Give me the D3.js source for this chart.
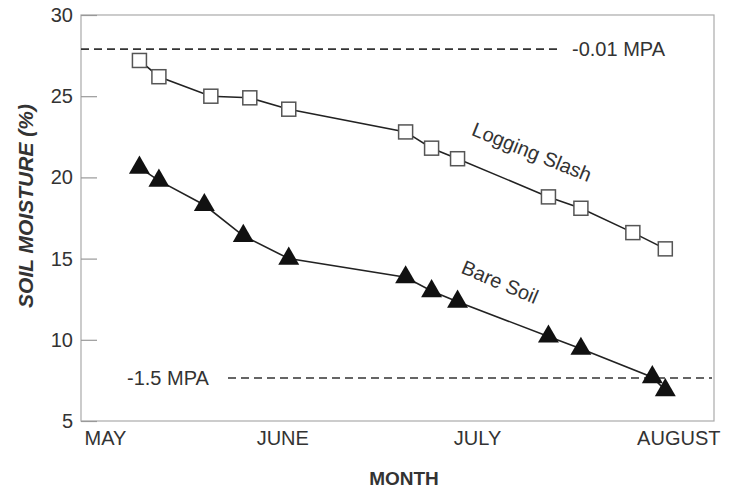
<!DOCTYPE html>
<html>
<head>
<meta charset="utf-8">
<script src="https://cdn.jsdelivr.net/npm/d3@7"></script>
<style>
  body { margin: 0; background: #fff; }
  text { font-family: "Liberation Sans", Arial, sans-serif; }
</style>
</head>
<body>
<div id="chart"></div>
<script>
// ---------------- data
const slashDates  = ["1990-05-10","1990-05-13","1990-05-21","1990-05-27","1990-06-02","1990-06-20",
                     "1990-06-24","1990-06-28","1990-07-12","1990-07-17","1990-07-25","1990-07-30"]
const slashValues = [27.2, 26.2, 25.0, 24.9, 24.2, 22.8, 21.8, 21.15, 18.8, 18.1, 16.6, 15.6]

const bareDates   = ["1990-05-10","1990-05-13","1990-05-20","1990-05-26","1990-06-02","1990-06-20","1990-06-24",
                     "1990-06-28","1990-07-12","1990-07-17","1990-07-28","1990-07-30"]
const bareValues  = [20.6, 19.8, 18.3, 16.4, 15.0, 13.85, 13.0, 12.35, 10.2, 9.45, 7.7, 6.9]

const yTicks      = [5, 10, 15, 20, 25, 30]
const monthDates  = ["1990-05-01","1990-06-01","1990-07-01","1990-08-01"]
const monthLabels = ["MAY","JUNE","JULY","AUGUST"]

const mpaValues   = [27.9, 7.65]
const mpaLabels   = ["-0.01 MPA", "-1.5 MPA"]

// ---------------- setup
const parseDate = d3.timeParse("%Y-%m-%d")
const slash = slashDates.map((d, i) => ({date: parseDate(d), value: slashValues[i]}))
const bare  = bareDates.map((d, i) => ({date: parseDate(d), value: bareValues[i]}))

const dims = {width: 751, height: 491, left: 81, right: 714, top: 15, bottom: 421}

const svg = d3.select("#chart").append("svg")
    .attr("width", dims.width)
    .attr("height", dims.height)

const xScale = d3.scaleTime()
    .domain([parseDate("1990-05-01"), new Date(1990, 7, 6, 12)])
    .range([dims.left, dims.right])

const yScale = d3.scaleLinear()
    .domain([5, 30])
    .range([dims.bottom, dims.top])

// frame
svg.append("rect")
    .attr("x", dims.left).attr("y", dims.top)
    .attr("width", dims.right - dims.left).attr("height", dims.bottom - dims.top)
    .attr("fill", "none")
    .attr("stroke", "#aaa")
    .attr("stroke-width", 1.2)

// y axis, ticks pointing in
const yAxis = d3.axisLeft(yScale).tickValues(yTicks).tickSize(-16).tickPadding(8)
const gy = svg.append("g").attr("transform", `translate(${dims.left},0)`).call(yAxis)
gy.select(".domain").remove()
gy.selectAll(".tick line").attr("stroke", "#999").attr("stroke-width", 1.2)
gy.selectAll(".tick text")
    .style("font-size", "20px")
    .style("font-family", "Liberation Sans, Arial, sans-serif")
    .attr("fill", "#333")

// x axis (month labels only)
const xAxis = d3.axisBottom(xScale)
    .tickValues(monthDates.map(parseDate))
    .tickSize(0).tickPadding(10)
    .tickFormat((d, i) => monthLabels[i])
const gx = svg.append("g").attr("transform", `translate(0,${dims.bottom})`).call(xAxis)
gx.select(".domain").remove()
gx.selectAll(".tick text")
    .style("font-size", "20px")
    .style("font-family", "Liberation Sans, Arial, sans-serif")
    .attr("fill", "#333")
gx.selectAll(".tick text").filter((d, i) => i === 0)
    .attr("text-anchor", "start").attr("x", 3)

// axis titles
svg.append("text")
    .attr("x", 404).attr("y", 485)
    .attr("text-anchor", "middle")
    .style("font-size", "19px").style("font-weight", "bold")
    .attr("fill", "#333")
    .text("MONTH")

svg.append("text")
    .attr("transform", "translate(33,206) rotate(-90)")
    .attr("text-anchor", "middle")
    .style("font-size", "21px").style("font-weight", "bold").style("font-style", "italic")
    .attr("fill", "#333")
    .text("SOIL MOISTURE (%)")

// MPA guide lines
const guides = [
  {y: yScale(mpaValues[0]), x1: dims.left, x2: 560, lx: 572, label: mpaLabels[0]},
  {y: yScale(mpaValues[1]), x1: 228, x2: 712, lx: 127, label: mpaLabels[1]}
]
guides.forEach(g => {
  svg.append("line")
    .attr("x1", g.x1).attr("x2", g.x2)
    .attr("y1", g.y).attr("y2", g.y)
    .attr("stroke", "#333")
    .attr("stroke-width", 1.6)
    .style("stroke-dasharray", "8,5")
  svg.append("text")
    .attr("x", g.lx).attr("y", g.y + 7)
    .style("font-size", "20px")
    .attr("fill", "#333")
    .text(g.label)
})

// lines
const lineGenerator = d3.line()
    .x(d => xScale(d.date))
    .y(d => yScale(d.value))

;[slash, bare].forEach(s => {
  svg.append("path")
    .attr("d", lineGenerator(s))
    .attr("fill", "none")
    .attr("stroke", "#222")
    .attr("stroke-width", 1.6)
})

// markers
svg.selectAll(".sq")
    .data(slash)
    .join("rect")
    .attr("class", "sq")
    .attr("x", d => xScale(d.date) - 7)
    .attr("y", d => yScale(d.value) - 7)
    .attr("width", 14).attr("height", 14)
    .attr("fill", "#fff")
    .attr("stroke", "#555")
    .attr("stroke-width", 1.5)

const tri = d3.symbol(d3.symbolTriangle, 190)
svg.selectAll(".tri")
    .data(bare)
    .join("path")
    .attr("class", "tri")
    .attr("d", tri)
    .attr("transform", d => `translate(${xScale(d.date)},${yScale(d.value)})`)
    .attr("fill", "#111")

// series labels
svg.append("text")
    .attr("transform", "translate(532,152) rotate(22)")
    .attr("text-anchor", "middle").attr("dy", "0.35em")
    .style("font-size", "20px")
    .attr("fill", "#333")
    .text("Logging Slash")

svg.append("text")
    .attr("transform", "translate(500,282) rotate(23)")
    .attr("text-anchor", "middle").attr("dy", "0.35em")
    .style("font-size", "20px")
    .attr("fill", "#333")
    .text("Bare Soil")
</script>
</body>
</html>
